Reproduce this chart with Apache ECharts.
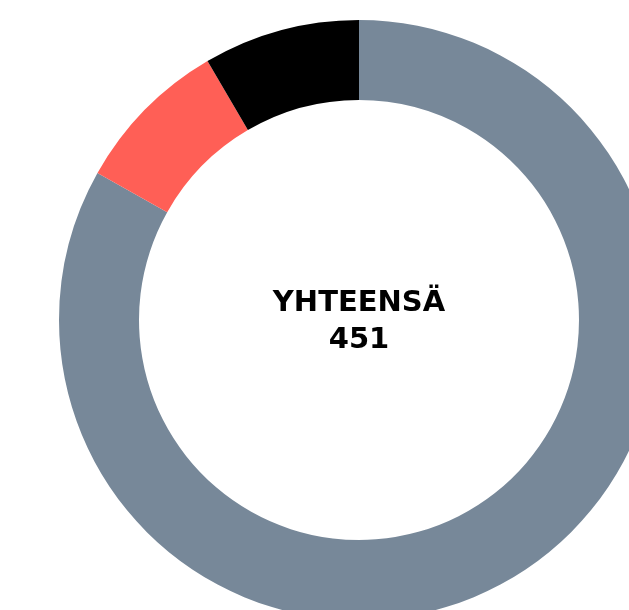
<!DOCTYPE html>
<html>
<head>
<meta charset="utf-8">
<script src="https://cdn.jsdelivr.net/npm/echarts@6/dist/echarts.min.js"></script>
<style>
  html, body { margin: 0; padding: 0; background: #fff; }
  #chart { width: 629px; height: 610px; }
</style>
</head>
<body>
<div id="chart"></div>
<script>
// data
var categories = ['Muut', 'Punainen', 'Musta'];
var values = [375, 38, 38];
var colors = ['#778899', '#ff5f56', '#000000'];
var centerLabel = 'YHTEENSÄ';

var total = values.reduce(function (a, b) { return a + b; }, 0);

var chart = echarts.init(document.getElementById('chart'));
var option = {
    animation: false,
    graphic: [
        {
            type: 'text',
            x: 359,
            y: 322,
            style: {
                text: centerLabel + '\n' + total,
                align: 'center',
                verticalAlign: 'middle',
                fontFamily: 'DejaVu Sans',
                fontWeight: 'bold',
                fontSize: 29,
                lineHeight: 37,
                fill: '#000'
            }
        }
    ],
    series: [
        {
            type: 'pie',
            center: [359, 320],
            radius: [220, 300],
            startAngle: 90,
            clockwise: true,
            silent: true,
            label: { show: false },
            labelLine: { show: false },
            data: categories.map(function (name, i) {
                return { name: name, value: values[i], itemStyle: { color: colors[i] } };
            })
        }
    ]
};
chart.setOption(option);
</script>
</body>
</html>
